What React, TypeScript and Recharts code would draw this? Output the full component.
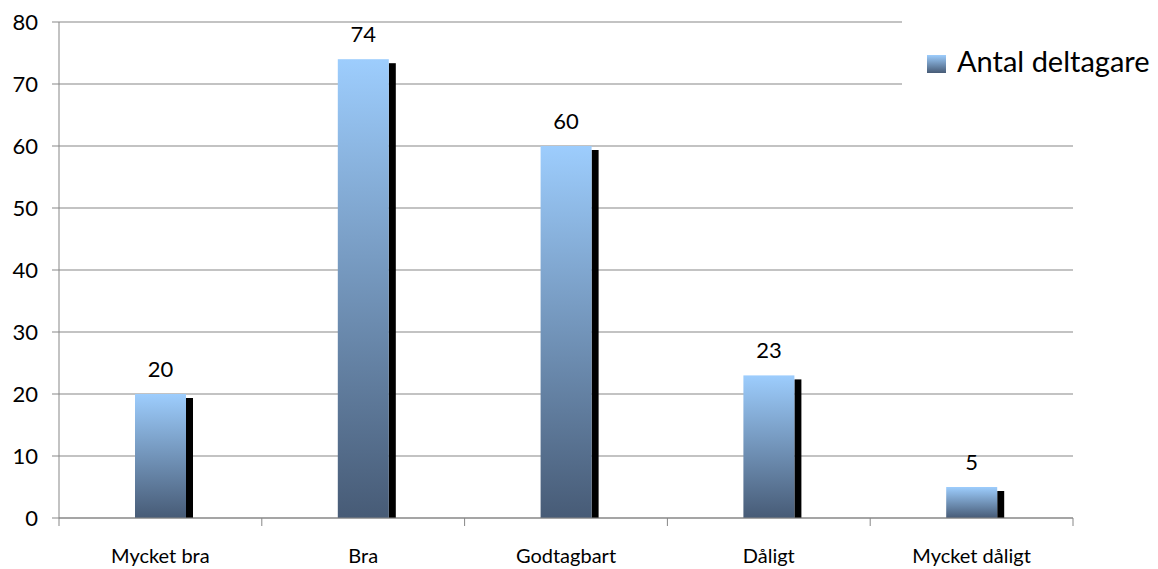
import React from 'react'
import { BarChart, Bar, CartesianGrid, XAxis, YAxis, Legend, LabelList } from 'recharts'

const categories = ['Mycket bra', 'Bra', 'Godtagbart', 'Dåligt', 'Mycket dåligt']
const deltagare = [20, 74, 60, 23, 5]
const yTicks = [0, 10, 20, 30, 40, 50, 60, 70, 80]
const seriesName = 'Antal deltagare'

const data = categories.map((name, i) => ({ name, value: deltagare[i] }))

const W = 1158
const H = 569
const AXIS_W = 59
const RIGHT = 85
const TOP = 22
const XAXIS_H = 51
const PLOT_BOTTOM = H - XAXIS_H
const BAND = (W - AXIS_W - RIGHT) / categories.length
const GRID = '#878787'
const FONT = 'Lato, "Open Sans", sans-serif'

// bar with a hard black drop shadow on its right edge
function ShadowBar(props: any) {
  const { x, y, width, height } = props
  if (!height || height <= 0) return null
  return (
    <g>
      <rect x={x + width} y={y + 4} width={7} height={Math.max(height - 4, 0)} fill="#000" />
      <rect x={x} y={y} width={width} height={height} fill="url(#barGrad)" />
    </g>
  )
}

function CategoryTick(props: any) {
  const { x, payload, index } = props
  const last = index === categories.length - 1
  return (
    <g>
      <line x1={x - BAND / 2} x2={x - BAND / 2} y1={PLOT_BOTTOM} y2={PLOT_BOTTOM + 8} stroke={GRID} />
      {last && (
        <line x1={x + BAND / 2} x2={x + BAND / 2} y1={PLOT_BOTTOM} y2={PLOT_BOTTOM + 8} stroke={GRID} />
      )}
      <text x={x} y={PLOT_BOTTOM + 45} textAnchor="middle" fontSize={20} fontFamily={FONT} fill="#000">
        {payload.value}
      </text>
    </g>
  )
}

function LegendBox() {
  return (
    <div style={{ position: 'relative', width: '100%', height: '100%', background: '#fff', fontFamily: FONT }}>
      <div
        style={{
          position: 'absolute',
          left: 25,
          top: 45,
          width: 19,
          height: 18,
          background: 'linear-gradient(#9dcdfd, #475b76)'
        }}
      />
      <div style={{ position: 'absolute', left: 55, top: 30, fontSize: 29, lineHeight: '42px', color: '#000', whiteSpace: 'nowrap' }}>
        {seriesName}
      </div>
    </div>
  )
}

export default function App() {
  return (
    <div style={{ position: 'absolute', left: 0, top: 0, width: W, height: H, background: '#fff', fontFamily: FONT }}>
      <BarChart width={W} height={H} data={data} margin={{ top: TOP, right: RIGHT, bottom: 0, left: 0 }} barCategoryGap={0}>
        <defs>
          <linearGradient id="barGrad" x1="0" y1="0" x2="0" y2="1">
            <stop offset="0%" stopColor="#9dcdfd" />
            <stop offset="100%" stopColor="#475b76" />
          </linearGradient>
        </defs>
        <CartesianGrid vertical={false} stroke={GRID} strokeWidth={1} />
        <XAxis
          dataKey="name"
          height={XAXIS_H}
          axisLine={{ stroke: GRID }}
          tickLine={false}
          tick={<CategoryTick />}
          interval={0}
        />
        <YAxis
          width={AXIS_W}
          domain={[0, 80]}
          ticks={yTicks}
          interval={0}
          axisLine={{ stroke: GRID }}
          tickLine={{ stroke: GRID }}
          tickSize={7}
          tickMargin={14}
          tick={{ fontSize: 22, fontFamily: FONT, fill: '#000' }}
        />
        <Legend
          layout="vertical"
          align="center"
          verticalAlign="middle"
          wrapperStyle={{ left: 902, top: 10, width: 256, height: 120 }}
          content={<LegendBox />}
        />
        <Bar dataKey="value" name={seriesName} barSize={51} shape={<ShadowBar />} isAnimationActive={false}>
          <LabelList dataKey="value" position="top" offset={17} fontSize={22} fontFamily={FONT} fill="#000" />
        </Bar>
      </BarChart>
    </div>
  )
}
